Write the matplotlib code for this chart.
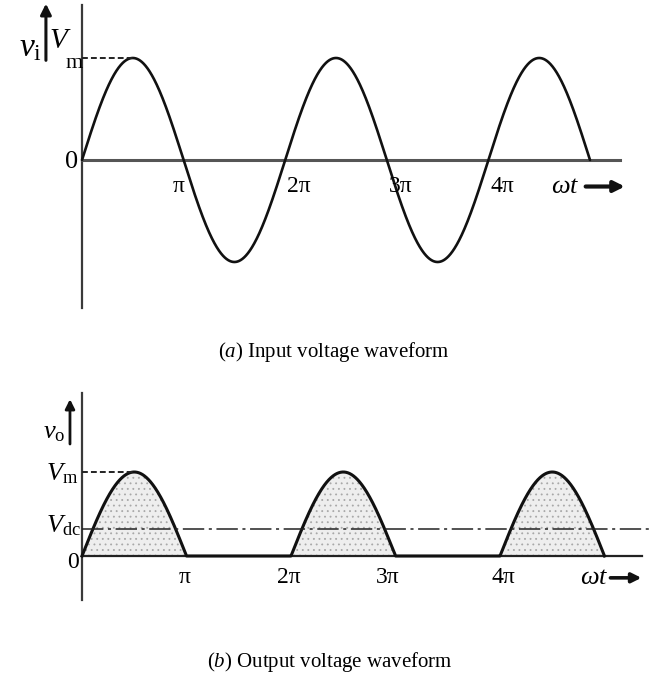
import numpy as np
import matplotlib
matplotlib.use("Agg")
import matplotlib.pyplot as plt

plt.rcParams['font.family'] = ['Liberation Serif', 'DejaVu Serif']
plt.rcParams['mathtext.fontset'] = 'custom'
plt.rcParams['mathtext.rm'] = 'Liberation Serif'
plt.rcParams['mathtext.it'] = 'Liberation Serif:italic'
plt.rcParams['hatch.linewidth'] = 0.6

# ---- data ----
n_half_cycles = 5                      # waveform spans 0 .. 5*pi
Vm = 1.0                               # peak voltage (normalised)
Vdc = Vm / np.pi                       # average of half-wave output
top_tick_mult = [1, 2, 3, 4]
top_tick_labels = ['π', '2π', '3π', '4π']
bot_tick_mult = [1, 2, 3, 4]
bot_tick_labels = ['π', '2π', '3π', '4π']
caption_a = '($a$) Input voltage waveform'
caption_b = '($b$) Output voltage waveform'

theta = np.linspace(0, n_half_cycles * np.pi, 2000)
v_in = Vm * np.sin(theta)
v_out = np.clip(v_in, 0, None)

W, H = 649, 686
fig = plt.figure(figsize=(W / 100, H / 100), dpi=100)

PI = np.pi
# ---------- top panel ----------
ax1 = fig.add_axes([0, 1 - 330 / H, 1, 330 / H])
sx1 = 101.6 / PI   # px per radian
sy1 = 102.0
ax1.set_xlim(-82 / sx1, (W - 82) / sx1)
ax1.set_ylim((160 - 330) / sy1, 160 / sy1)
ax1.axis('off')

ax1.plot([0, 0], [(160 - 308) / sy1, (160 - 5) / sy1], color='#3a3a3a', lw=1.6)
ax1.plot([0, (620 - 82) / sx1], [0, 0], color='#555555', lw=2.2)
ax1.plot(theta, v_in, color='#111111', lw=1.9, solid_capstyle='round')
ax1.plot([0, 0.5 * PI], [Vm, Vm], color='#222222', lw=1.4, dashes=(3, 1.6))

top_offsets = [-0.05, 0.02, 0.02, 0.02]
for m, lab, off in zip(top_tick_mult, top_tick_labels, top_offsets):
    ax1.text(m * PI + off * PI, -0.16, lab, ha='center' if m == 1 else 'left',
             va='top', fontsize=17)
ax1.text(-0.1 * PI, -0.02, '0', ha='center', va='center', fontsize=19)
ax1.text(-0.51 * PI, 1.1, r'$v_\mathrm{i}$', ha='center', va='center', fontsize=24)
ax1.annotate('', xy=(-0.355 * PI, 1.56), xytext=(-0.355 * PI, 0.95),
             arrowprops=dict(arrowstyle='-|>', lw=2.2, color='#111111', mutation_scale=16))
ax1.text(-0.215 * PI, 1.17, r'$V$', ha='center', va='center', fontsize=21)
ax1.text(-0.08 * PI, 0.95, 'm', ha='center', va='center', fontsize=16)
ax1.text(4.76 * PI, -0.26, r'$\omega t$', ha='center', va='center', fontsize=19)
ax1.annotate('', xy=(5.37 * PI, -0.26), xytext=(4.93 * PI, -0.26),
             arrowprops=dict(arrowstyle='-|>', lw=3.0, color='#111111', mutation_scale=16))

# ---------- bottom panel ----------
ax2 = fig.add_axes([0, 0, 1, 326 / H])
sx2 = 104.5 / PI
sy2 = 84.0
ax2.set_xlim(-82 / sx2, (W - 82) / sx2)
ax2.set_ylim((556 - H) / sy2, (556 - 360) / sy2)
ax2.axis('off')

ax2.fill_between(theta, 0, v_out, where=v_out > 0, facecolor='#eeeeee',
                 edgecolor='#a8a8a8', hatch='...', lw=0)
ax2.plot([0, 0], [(556 - 600) / sy2, (556 - 393) / sy2], color='#3a3a3a', lw=1.6)
ax2.plot([0, (642 - 82) / sx2], [0, 0], color='#222222', lw=1.6)
ax2.plot(theta, v_out, color='#111111', lw=2.2)
ax2.plot([0, (649 - 82) / sx2], [Vdc, Vdc], color='#222222', lw=1.1,
         dashes=(14, 3, 2, 3))
ax2.plot([0, 0.5 * PI], [Vm, Vm], color='#222222', lw=1.4, dashes=(3, 1.6))

bot_offsets = [-0.02, -0.02, -0.07, 0.03]
for m, lab, off in zip(bot_tick_mult, bot_tick_labels, bot_offsets):
    ax2.text(m * PI + off * PI, -0.13, lab, ha='center', va='top', fontsize=17)
ax2.text(-0.085 * PI, -0.08, '0', ha='center', va='center', fontsize=17)
ax2.text(-0.19 * PI, 0.98, r'$V_\mathrm{m}$', ha='center', va='center', fontsize=19)
ax2.text(-0.18 * PI, 0.36, r'$V_\mathrm{dc}$', ha='center', va='center', fontsize=19)
ax2.text(-0.27 * PI, 1.46, r'$v_\mathrm{o}$', ha='center', va='center', fontsize=19)
ax2.annotate('', xy=(-0.115 * PI, 1.90), xytext=(-0.115 * PI, 1.30),
             arrowprops=dict(arrowstyle='-|>', lw=2.0, color='#111111', mutation_scale=14))
ax2.text(4.9 * PI, -0.26, r'$\omega t$', ha='center', va='center', fontsize=19)
ax2.annotate('', xy=(5.38 * PI, -0.26), xytext=(5.03 * PI, -0.26),
             arrowprops=dict(arrowstyle='-|>', lw=2.6, color='#111111', mutation_scale=14))

# ---------- captions ----------
fig.text(334 / W, 1 - 352 / H, caption_a, ha='center', va='center', fontsize=15)
fig.text(330 / W, 1 - 662 / H, caption_b, ha='center', va='center', fontsize=15)

fig.savefig('out.png', dpi=100)
